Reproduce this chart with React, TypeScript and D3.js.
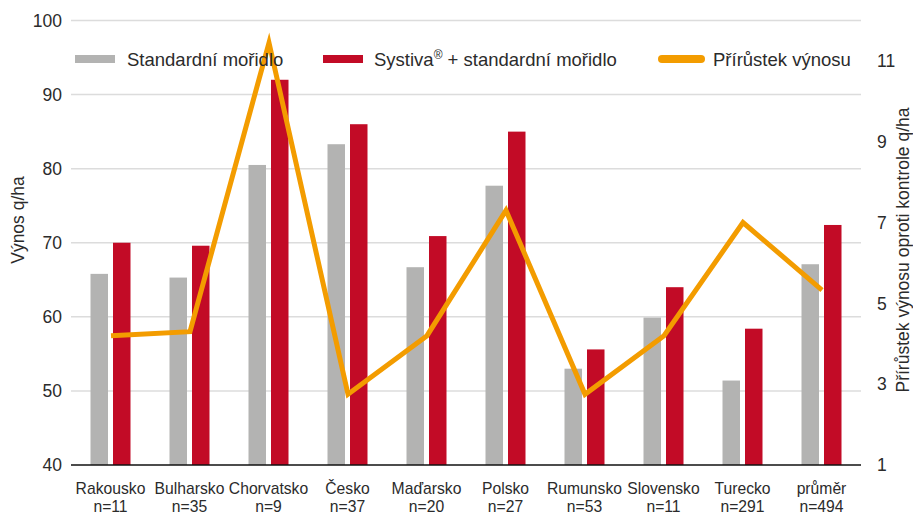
import React from "react";
import * as d3 from "d3";

const categories = ["Rakousko", "Bulharsko", "Chorvatsko", "Česko", "Maďarsko", "Polsko", "Rumunsko", "Slovensko", "Turecko", "průměr"];
const counts = ["n=11", "n=35", "n=9", "n=37", "n=20", "n=27", "n=53", "n=11", "n=291", "n=494"];
const standard = [65.8, 65.3, 80.5, 83.3, 66.7, 77.7, 53.0, 59.9, 51.4, 67.1];
const systiva = [70.0, 69.6, 92.0, 86.0, 70.9, 85.0, 55.6, 64.0, 58.4, 72.4];
const gain = [4.2, 4.3, 11.45, 2.75, 4.2, 7.3, 2.75, 4.2, 7.0, 5.33];
const leftTicks = [40, 50, 60, 70, 80, 90, 100];
const rightTicks = [1, 3, 5, 7, 9, 11];
const legendLabels = ["Standardní mořidlo", "Systiva", "Přírůstek výnosu"];

const GREY = "#b3b3b2";
const RED = "#c20b26";
const ORANGE = "#f39c00";
const FONT = "'Liberation Sans', Arial, sans-serif";

export default function App() {
  const W = 913, H = 516;
  const x0 = 71, x1 = 861, yTop = 20.5, yBot = 465;
  const x = d3.scaleBand<string>().domain(categories).range([x0, x1]);
  const yL = d3.scaleLinear().domain([40, 100]).range([yBot, yTop]);
  const yR = d3.scaleLinear().domain([1, 12]).range([yBot, yTop]);
  const bw = 17.5, gap = 5;
  const cx = (c: string) => (x(c) as number) + x.bandwidth() / 2;
  const line = d3.line<number>().x((_, i) => cx(categories[i]) + 0.5).y((d) => yR(d));

  return (
    <svg width={W} height={H} style={{ position: "absolute", left: 0, top: 0, background: "#fff" }} fontFamily={FONT}>
      {leftTicks.map((t) => (
        <g key={t}>
          {t !== 40 && <line x1={x0} x2={x1} y1={yL(t)} y2={yL(t)} stroke="#dcdcdc" strokeWidth={1.5} />}
          <text x={62} y={yL(t)} dy="0.36em" textAnchor="end" fontSize={17.5} fill="#2b2b2b">{t}</text>
        </g>
      ))}
      {rightTicks.map((t) => (
        <text key={t} x={877} y={yR(t)} dy="0.36em" textAnchor="start" fontSize={17.5} fill="#2b2b2b">{t}</text>
      ))}
      {categories.map((c, i) => (
        <g key={c}>
          <rect x={cx(c) - gap / 2 - bw} y={yL(standard[i])} width={bw} height={yBot - yL(standard[i])} fill={GREY} />
          <rect x={cx(c) + gap / 2} y={yL(systiva[i])} width={bw} height={yBot - yL(systiva[i])} fill={RED} />
          <text x={cx(c)} y={494} textAnchor="middle" fontSize={15.7} fill="#2b2b2b">{c}</text>
          <text x={cx(c)} y={512} textAnchor="middle" fontSize={15.7} fill="#2b2b2b">{counts[i]}</text>
        </g>
      ))}
      <line x1={x0} x2={x1} y1={yBot} y2={yBot} stroke="#111" strokeWidth={1.5} />
      <path d={line(gain) as string} fill="none" stroke={ORANGE} strokeWidth={5} strokeLinejoin="miter" strokeMiterlimit={10} />
      <text transform="translate(24,220) rotate(-90)" textAnchor="middle" fontSize={17.5} fill="#2b2b2b">Výnos q/ha</text>
      <text transform="translate(909,250) rotate(-90)" textAnchor="middle" fontSize={17.5} fill="#2b2b2b">Přírůstek výnosu oproti kontrole q/ha</text>
      <g fontSize={18.5} fill="#2b2b2b">
        <rect x={75} y={55} width={40} height={8} fill={GREY} />
        <text x={127} y={66}>{legendLabels[0]}</text>
        <rect x={323} y={55} width={40} height={8} fill={RED} />
        <text x={374} y={66}>{legendLabels[1]}<tspan fontSize={12} dy={-7}>®</tspan><tspan dy={7}> + standardní mořidlo</tspan></text>
        <line x1={662} x2={701} y1={59} y2={59} stroke={ORANGE} strokeWidth={8} strokeLinecap="round" />
        <text x={713} y={66}>{legendLabels[2]}</text>
      </g>
    </svg>
  );
}
